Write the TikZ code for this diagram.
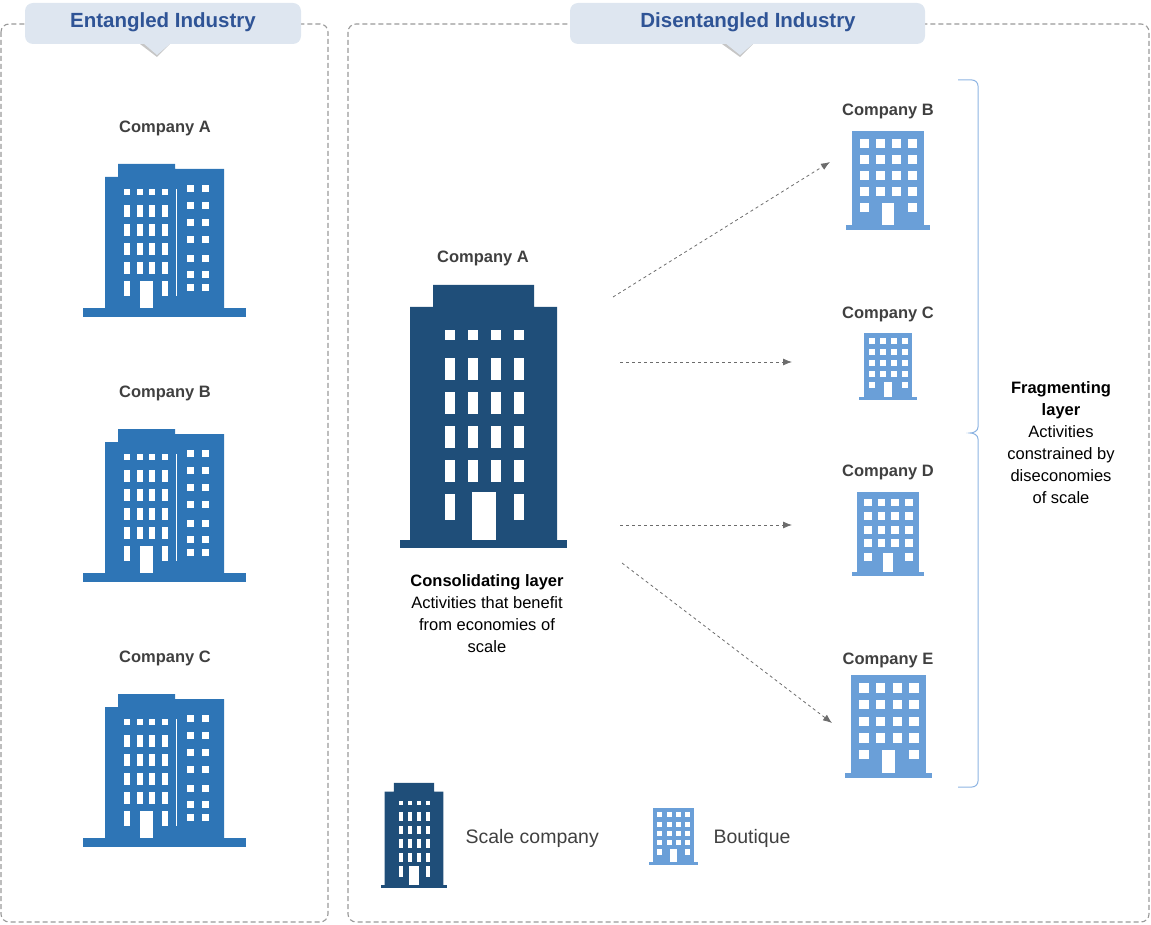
\documentclass[tikz,border=0pt]{standalone}
\usepackage{fontspec}
\setmainfont{Liberation Sans}
\usetikzlibrary{arrows.meta}
\definecolor{entc}{HTML}{2E75B6}
\definecolor{scalec}{HTML}{1F4E79}
\definecolor{boutc}{HTML}{6A9FD8}
\definecolor{tabc}{HTML}{DEE6F0}
\definecolor{tabt}{HTML}{2F5496}
\definecolor{txt}{HTML}{404040}
\definecolor{bracec}{HTML}{8DB4E2}
\tikzset{
 frame/.style={draw=gray!80,dash pattern=on 5pt off 3pt,rounded corners=8pt,line width=1.1pt},
 tab/.style={fill=tabc,rounded corners=8pt},
 tabtext/.style={text=tabt,font=\fontsize{20.5}{24}\selectfont\bfseries},
 lab/.style={text=txt,font=\fontsize{16.5}{19}\selectfont\bfseries},
 body/.style={align=center,font=\fontsize{16.5}{22}\selectfont,text=black},
 leg/.style={text=txt,font=\fontsize{19.5}{22}\selectfont,anchor=west},
 arr/.style={draw=gray!85!black,dashed,line width=0.8pt,-{Latex[length=9pt,width=7pt]}},
 win/.style={fill=white}
}
\newcommand{\entbld}[1]{%
\begin{scope}[shift={(0,#1)}]
 \fill[entc] (83,308) rectangle (246,317);
 \fill[entc] (105,308) -- (105,177) -- (118,177) -- (118,164) -- (175,164) -- (175,169) -- (224,169) -- (224,308) -- cycle;
 \fill[white] (175.5,189) rectangle (176.8,296);
 \foreach \x in {124,137,149,162}{\fill[win] (\x,189) rectangle +(6,6);
  \foreach \y in {205,224,243,262}{\fill[win] (\x,\y) rectangle +(6,12);}}
 \foreach \x in {124,162}{\fill[win] (\x,281) rectangle +(6,15);}
 \fill[win] (140,281) rectangle (153,308);
 \foreach \x in {187,202}{\foreach \y in {185,202,219,236,255,271,284}{\fill[win] (\x,\y) rectangle +(7,7);}}
\end{scope}}
\newcommand{\scalebld}[3]{%
\begin{scope}[shift={(#1,#2)},scale=#3,shift={(-483.5,-548)}]
 \fill[scalec] (400,540) rectangle (567,548);
 \fill[scalec] (410,540) -- (410,307) -- (433,307) -- (433,285) -- (534,285) -- (534,307) -- (557,307) -- (557,540) -- cycle;
 \foreach \x in {445,468,491,514}{\fill[win] (\x,330) rectangle +(10,10);
  \foreach \y in {358,392,426,460}{\fill[win] (\x,\y) rectangle +(10,22);}}
 \foreach \x in {445,514}{\fill[win] (\x,494) rectangle +(10,26);}
 \fill[win] (472,492) rectangle (496,540);
\end{scope}}
\newcommand{\boutbld}[3]{%
\begin{scope}[shift={(#1,#2)},scale=#3,shift={(-888,-230)}]
 \fill[boutc] (846,225) rectangle (930,230);
 \fill[boutc] (852,131) rectangle (924,226);
 \foreach \x in {860,876,892,908}{\foreach \y in {139,155,171,187}{\fill[win] (\x,\y) rectangle +(9,9);}}
 \foreach \x in {860,908}{\fill[win] (\x,203) rectangle +(9,9);}
 \fill[win] (882,203) rectangle (894,225);
\end{scope}}
\begin{document}
\begin{tikzpicture}[x=1pt,y=-1pt]
\useasboundingbox (0,0) rectangle (1151,925);
% frames
\draw[frame] (1,24) rectangle (328,922);
\draw[frame] (348,24) rectangle (1149,922);
% tabs
\fill[gray!45] (140,44) -- (157,57) -- (170,44) -- cycle;
\fill[tab] (25,3) rectangle (301,44);
\fill[tabc] (143,43) -- (157,55) -- (171,43) -- cycle;
\node[tabtext] (t1) at (163,22) {Entangled Industry};
\fill[gray!45] (722,44) -- (740,57) -- (753,44) -- cycle;
\fill[tab] (570,3) rectangle (925,44);
\fill[tabc] (725,43) -- (740,55) -- (754,43) -- cycle;
\node[tabtext] (t2) at (748,22) {Disentangled Industry};
% left
\node[lab] (la) at (165,128) {Company A};
\entbld{0}
\node[lab] (lb) at (165,393) {Company B};
\entbld{265}
\node[lab] (lc) at (165,658) {Company C};
\entbld{530}
% middle
\node[lab] (ma) at (483,258) {Company A};
\scalebld{483.5}{548}{1}
\node[body] (cons) at (487,614) {\textbf{Consolidating layer}\\Activities that benefit\\from economies of\\scale};
% right
\node[lab] (rb) at (888,111) {Company B};
\boutbld{888}{230}{1}
\node[lab] (rc) at (888,314) {Company C};
\boutbld{888}{400}{0.68}
\node[lab] (rd) at (888,472) {Company D};
\boutbld{888}{576}{0.85}
\node[lab] (re) at (888,660) {Company E};
\boutbld{888.5}{778}{1.04}
% arrows
\coordinate (s1) at (613,297); \coordinate (e1) at (830,162);
\coordinate (s2) at (620,362); \coordinate (e2) at (792,362);
\coordinate (s3) at (620,525); \coordinate (e3) at (792,525);
\coordinate (s4) at (622,563); \coordinate (e4) at (832,723);
\draw[arr] (s1) -- (e1);
\draw[arr] (s2) -- (e2);
\draw[arr] (s3) -- (e3);
\draw[arr] (s4) -- (e4);
% brace
\coordinate (bt) at (958,80); \coordinate (bb) at (958,787);
\draw[bracec,line width=1pt] (bt) -- (972,80) to[out=0,in=90] (978,86) -- (978,427) to[out=-90,in=0] (970,433) to[out=0,in=90] (978,439) -- (978,781) to[out=-90,in=0] (972,787) -- (bb);
\node[body] (frag) at (1061,443) {\textbf{Fragmenting}\\\textbf{layer}\\Activities\\constrained by\\diseconomies\\of scale};
% legend
\scalebld{414}{888}{0.4}
\node[leg] (l1) at (462,838) {Scale company};
\boutbld{673.5}{865}{0.58}
\node[leg] (l2) at (710,838) {Boutique};
\end{tikzpicture}
\end{document}
